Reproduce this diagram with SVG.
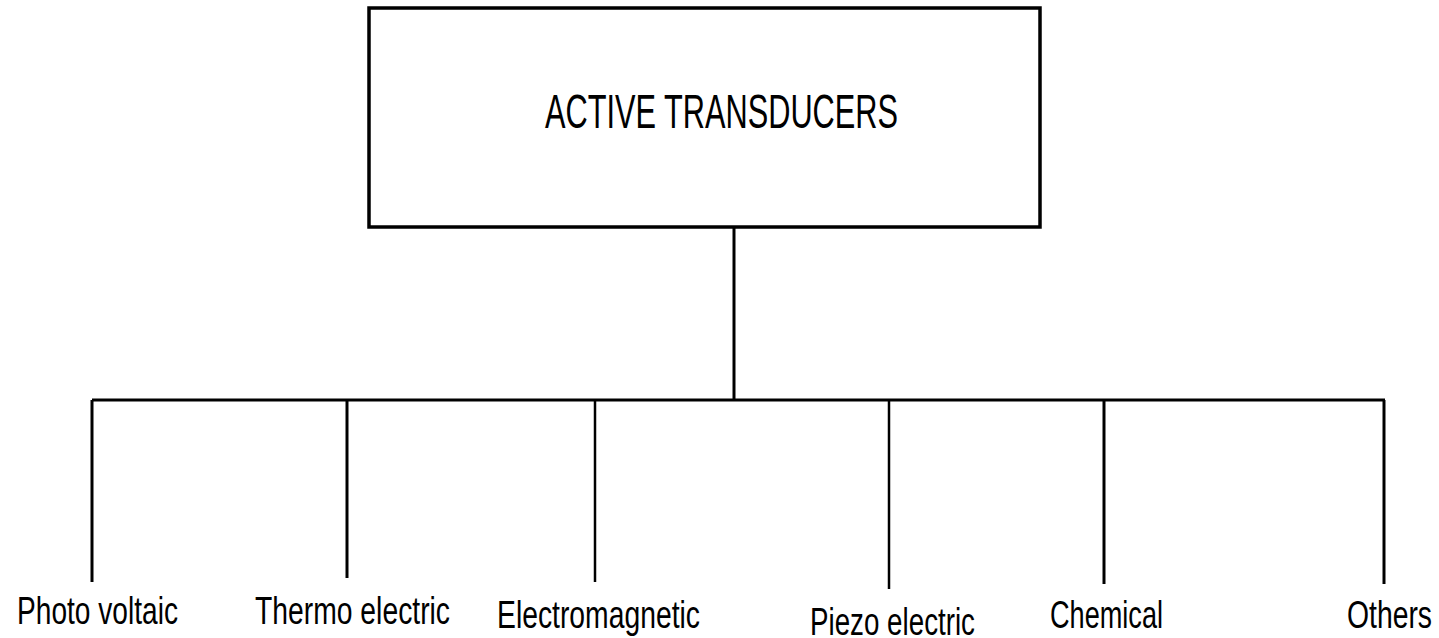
<svg xmlns="http://www.w3.org/2000/svg" width="1439" height="638" viewBox="0 0 1439 638">
<style>
.box{fill:#fff;stroke:#000;stroke-width:3.5}
.ln{stroke:#000;stroke-width:3;fill:none}
.t{font-family:"Liberation Sans",Arial,sans-serif;fill:#000}
.title{font-size:49px}
.lbl{font-size:39px}
</style>
<rect width="1439" height="638" fill="#fff"/>
<g id="root">
<rect class="box" x="369" y="8" width="671" height="219"/>
<text class="t title" x="545" y="128" textLength="353" lengthAdjust="spacingAndGlyphs">ACTIVE TRANSDUCERS</text>
</g>
<g id="connectors">
<line class="ln" x1="734" y1="227" x2="734" y2="400"/>
<line class="ln" x1="92" y1="400" x2="1385" y2="400"/>
<line class="ln" x1="92" y1="400" x2="92" y2="582"/>
<line class="ln" x1="347" y1="400" x2="347" y2="578"/>
<line class="ln" x1="595" y1="400" x2="595" y2="582" style="stroke-width:2.5"/>
<line class="ln" x1="889" y1="400" x2="889" y2="589" style="stroke-width:2.5"/>
<line class="ln" x1="1104" y1="400" x2="1104" y2="584"/>
<line class="ln" x1="1384" y1="400" x2="1384" y2="584"/>
</g>
<g id="photo"><text class="t lbl" x="17" y="624" textLength="161" lengthAdjust="spacingAndGlyphs">Photo voltaic</text></g>
<g id="thermo"><text class="t lbl" x="255" y="624" textLength="195" lengthAdjust="spacingAndGlyphs">Thermo electric</text></g>
<g id="electro"><text class="t lbl" x="497" y="628" textLength="203" lengthAdjust="spacingAndGlyphs">Electromagnetic</text></g>
<g id="piezo"><text class="t lbl" x="810" y="635" textLength="165" lengthAdjust="spacingAndGlyphs">Piezo electric</text></g>
<g id="chemical"><text class="t lbl" x="1050" y="628" textLength="113" lengthAdjust="spacingAndGlyphs">Chemical</text></g>
<g id="others"><text class="t lbl" x="1347" y="628" textLength="85" lengthAdjust="spacingAndGlyphs">Others</text></g>
</svg>
